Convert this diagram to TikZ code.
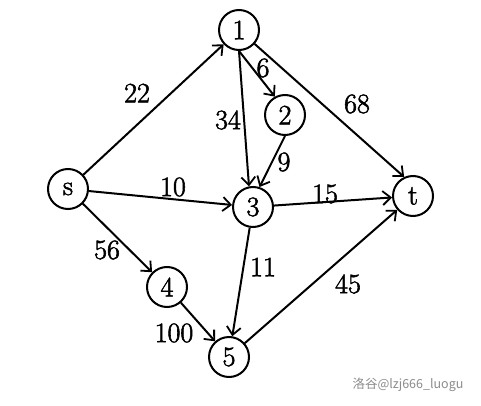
\documentclass[tikz,border=0pt]{standalone}
\usepackage{fontspec}
\newfontfamily\cjk{Noto Sans CJK SC}
\newfontfamily\lblfont{Latin Modern Roman}[FakeBold=2]
\usetikzlibrary{arrows.meta}
\begin{document}
\begin{tikzpicture}[x=1pt,y=-1pt,
  vert/.style={circle,draw,line width=2pt,minimum size=40pt,inner sep=0pt,font=\lblfont\fontsize{28}{28}\selectfont},
  lbl/.style={font=\lblfont\fontsize{28}{28}\selectfont,inner sep=0pt},
  edge/.style={line width=2pt,-{Straight Barb[length=8pt,width=14pt,line width=1.8pt]}}]
\useasboundingbox[fill=white] (0,0) rectangle (481,406);
\node[vert] (s) at (68,189) {s};
\node[vert] (n1) at (239,30) {1};
\node[vert] (n2) at (285,115) {2};
\node[vert] (n3) at (253,207) {3};
\node[vert] (t) at (413,196) {t};
\node[vert] (n4) at (167,287) {4};
\node[vert] (n5) at (229,357) {5};
\draw[edge] (s) -- (n1);
\draw[edge] (s) -- (n3);
\draw[edge] (s) -- (n4);
\draw[edge] (n1.south) -- (n2.119);
\draw[edge] (n1.south) -- (n3.101);
\draw[edge] (n1) -- (t.115);
\draw[edge] (n2.south) -- (n3.72);
\draw[edge] (n3) -- (t);
\draw[edge] (n3) -- (n5);
\draw[edge] (n4) -- (n5);
\draw[edge] (n5) -- (t);
\node[lbl] (l22) at (137,93) {22};
\node[lbl] (l6) at (263,68) {6};
\node[lbl] (l68) at (357,104) {68};
\node[lbl] (l34) at (228,120) {34};
\node[lbl] (l9) at (284,162) {9};
\node[lbl] (l10) at (173,187) {10};
\node[lbl] (l15) at (325,194) {15};
\node[lbl] (l56) at (107,250) {56};
\node[lbl] (l11) at (263,267) {11};
\node[lbl] (l45) at (348,284) {45};
\node[lbl] (l100) at (174,333) {100};
\node[font=\cjk\fontsize{12.5}{12.5}\selectfont,text=black!45,inner sep=0pt] (wm) at (408,385) {洛谷@lzj666\_luogu};
\end{tikzpicture}
\end{document}
